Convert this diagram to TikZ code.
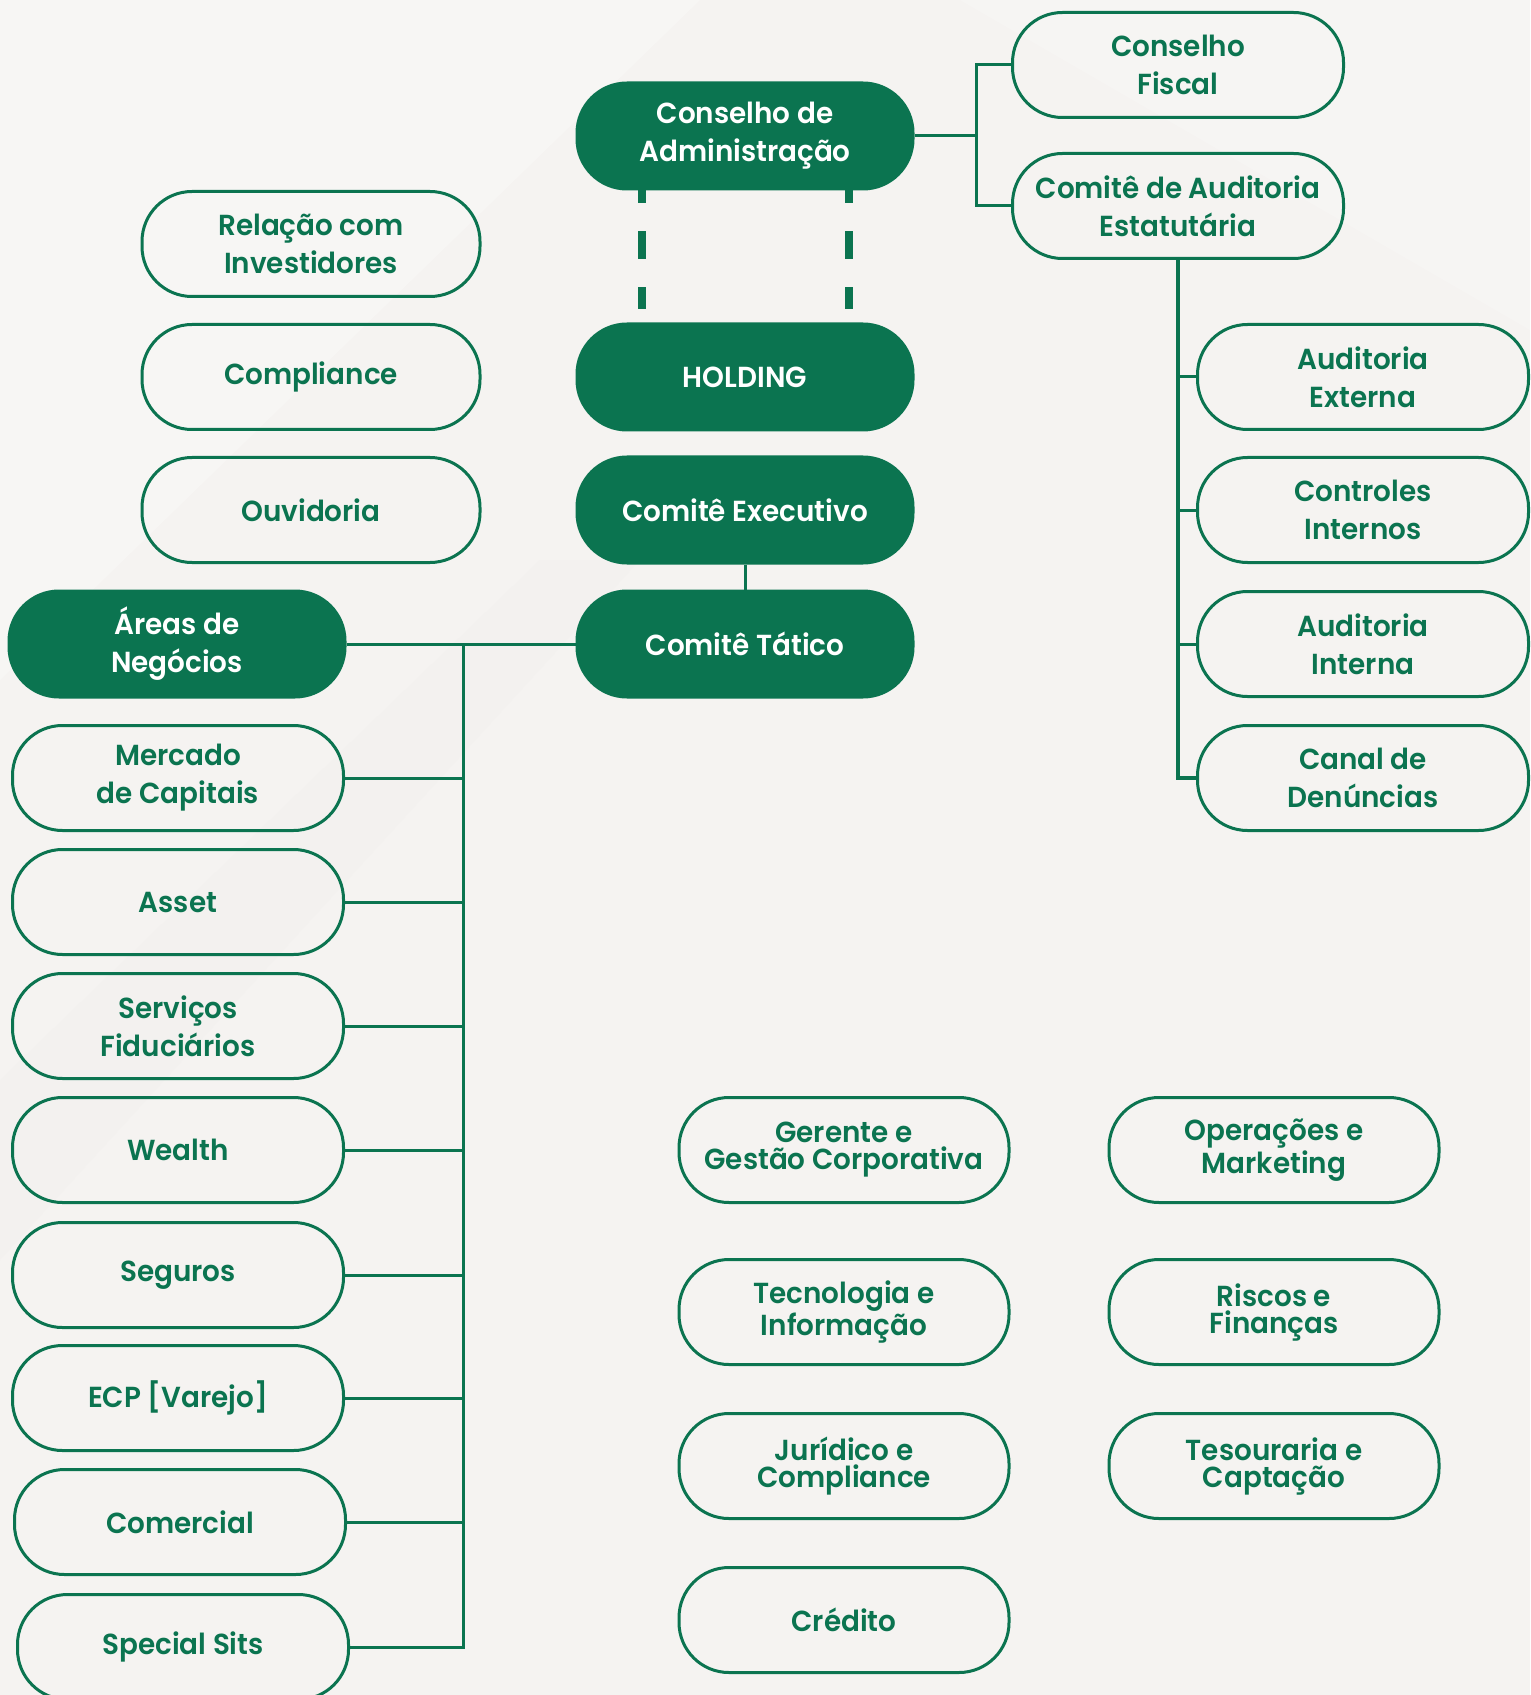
\documentclass[tikz,border=0pt]{standalone}
\usepackage{fontspec}
\setmainfont{Poppins SemiBold}[FakeStretch=0.96]
\usetikzlibrary{calc}
\definecolor{dg}{HTML}{0B7450}
\definecolor{bg}{HTML}{F5F3F1}
\definecolor{bgl}{HTML}{FAF9F8}
\definecolor{bgd}{HTML}{F0EEEC}
\tikzset{
  base/.style={rounded corners=25pt, line width=1.5pt, align=center,
    font=\fontsize{14.5}{19}\selectfont, inner sep=0pt},
  solidbox/.style={base, fill=dg, draw=dg, text=white, minimum width=168pt, minimum height=53pt},
  linebox/.style={base, draw=dg, text=dg, minimum width=165.5pt, minimum height=52.5pt},
  tightbox/.style={linebox, minimum width=165pt, font=\fontsize{14.5}{13.5}\selectfont},
  conn/.style={draw=dg, line width=1.5pt},
  dashline/.style={draw=dg, line width=4pt, dash pattern=on 14pt off 14pt, dash phase=7.5pt},
}
\begin{document}
\begin{tikzpicture}[x=0.5pt,y=-0.5pt]
\useasboundingbox (0,0) rectangle (1530,1695);
% background
\fill[bg] (0,0) rectangle (1530,1695);
\fill[bgl, opacity=0.5] (0,0) -- (700,0) -- (0,680) -- cycle;
\fill[bgd, opacity=0.35] (0,1080) -- (540,560) -- (640,560) -- (0,1260) -- cycle;
\fill[bgl, opacity=0.35] (960,0) -- (1530,0) -- (1530,330) -- cycle;

% central column
\node[solidbox] (CA) at (745,136) {Conselho de\\Administração};
\node[solidbox] (HO) at (745,377) {HOLDING};
\node[solidbox] (CE) at (745,510) {Comitê Executivo};
\node[solidbox] (CT) at (745,644) {Comitê Tático};

% top right
\node[linebox] (CF) at (1178,65) {Conselho\\Fiscal};
\node[linebox] (CAE) at (1178,206) {Comitê de Auditoria\\Estatutária};
\node[linebox] (AE) at (1363,377) {Auditoria\\Externa};
\node[linebox] (CI) at (1363,510) {Controles\\Internos};
\node[linebox] (AI) at (1363,644) {Auditoria\\Interna};
\node[linebox] (CD) at (1363,778) {Canal de\\Denúncias};

% top left
\node[linebox, minimum width=169pt] (RI) at (311,244) {Relação com\\Investidores};
\node[linebox, minimum width=169pt] (CO) at (311,377) {Compliance};
\node[linebox, minimum width=169pt] (OU) at (311,510) {Ouvidoria};

% business areas
\node[solidbox] (AN) at (177,644) {Áreas de\\Negócios};
\node[linebox] (MC) at (178,778) {Mercado\\de Capitais};
\node[linebox] (AS) at (178,902) {Asset};
\node[linebox] (SF) at (178,1026) {Serviços\\Fiduciários};
\node[linebox] (WE) at (178,1150) {Wealth};
\node[linebox] (SE) at (178,1275) {Seguros};
\node[linebox] (EC) at (178,1398) {ECP [Varejo]};
\node[linebox] (CM) at (180,1522) {Comercial};
\node[linebox] (SS) at (183,1647) {Special Sits};

% bottom grid
\node[tightbox] (GG) at (844,1150) {Gerente e\\Gestão Corporativa};
\node[tightbox] (OM) at (1274,1150) {Operações e\\Marketing};
\node[tightbox] (TI) at (844,1312) {Tecnologia e\\Informação};
\node[tightbox] (RF) at (1274,1312) {Riscos e\\Finanças};
\node[tightbox] (JC) at (844,1466) {Jurídico e\\Compliance};
\node[tightbox] (TC) at (1274,1466) {Tesouraria e\\Captação};
\node[tightbox] (CR) at (844,1620) {Crédito};

% dashed links
\draw[dashline] ($(CA.south west)+(66,0)$) -- ($(HO.north west)+(66,-13)$);
\draw[dashline] ($(CA.south east)+(-66,0)$) -- ($(HO.north east)+(-66,-13)$);

% connectors top right
\coordinate (jr) at (976,136);
\draw[conn] (CA.east) -- (jr);
\draw[conn] (CF.west) -| (jr);
\draw[conn] (CAE.west) -| (jr);
\draw[conn, line width=1.75pt] (CAE.south) -- (CAE.south |- CD.west) -- (CD.west);
\foreach \n in {AE,CI,AI}{\draw[conn] (\n.west) -- (\n.west -| CAE.south);}

% central
\draw[conn] (CE.south) -- (CT.north);
\draw[conn] (AN.east) -- (CT.west);

% business areas
\coordinate (jl) at (463,644);
\draw[conn] (jl) |- (SS.east);
\foreach \n in {MC,AS,SF,WE,SE,EC,CM}{\draw[conn] (\n.east) -- (\n.east -| jl);}
\end{tikzpicture}
\end{document}
